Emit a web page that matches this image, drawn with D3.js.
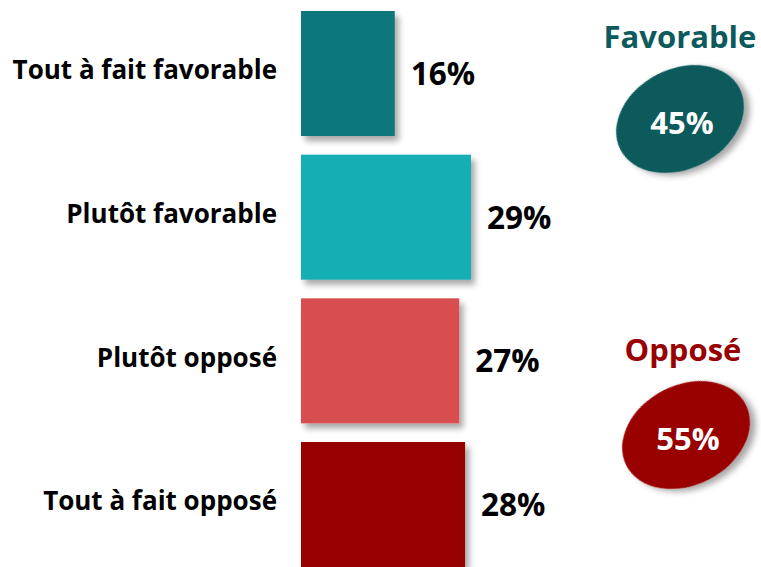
<!DOCTYPE html>
<html><head><meta charset="utf-8">
<script src="https://cdn.jsdelivr.net/npm/d3@7"></script>
<style>body{margin:0;background:#fff}svg{display:block}</style>
</head><body>
<script>
const categories = ["Tout à fait favorable","Plutôt favorable","Plutôt opposé","Tout à fait opposé"];
const values = [16, 29, 27, 28];
const barColors = ["#10777d","#13aeb5","#d84d4f","#960000"];
const groups = ["Favorable","Opposé"];
const groupTotals = [45, 55];
const groupColors = ["#0d5a5c","#990000"];

const W = 761, H = 567;
const svg = d3.select("body").append("svg").attr("width", W).attr("height", H);
const defs = svg.append("defs");
const f = defs.append("filter").attr("id","sh").attr("x","-20%").attr("y","-20%").attr("width","150%").attr("height","150%");
f.append("feDropShadow").attr("dx",4).attr("dy",5).attr("stdDeviation",3).attr("flood-color","#000").attr("flood-opacity",0.35);

const font = "'Open Sans', sans-serif";
const x = d3.scaleLinear().domain([0, 100]).range([301, 301 + 586]);
const y = d3.scaleBand().domain(categories).range([11, 567]).paddingInner(0.13).paddingOuter(0);

svg.selectAll("rect.bar").data(values).join("rect")
  .attr("class","bar")
  .attr("x", x(0))
  .attr("y", (d,i) => y(categories[i]))
  .attr("width", d => x(d) - x(0))
  .attr("height", y.bandwidth())
  .attr("fill", (d,i) => barColors[i])
  .attr("filter","url(#sh)");

svg.selectAll("text.val").data(values).join("text")
  .attr("class","val")
  .attr("x", d => x(d) + 16)
  .attr("y", (d,i) => y(categories[i]) + y.bandwidth()/2 + 3)
  .attr("dominant-baseline","middle")
  .attr("font-family", font).attr("font-weight", 700).attr("font-size", 31.5)
  .attr("fill","#000")
  .text(d => d + "%");

svg.selectAll("text.cat").data(categories).join("text")
  .attr("class","cat")
  .attr("x", 277)
  .attr("y", d => y(d) + y.bandwidth()/2 - 1)
  .attr("text-anchor","end")
  .attr("dominant-baseline","middle")
  .attr("font-family", font).attr("font-weight", 700).attr("font-size", 26)
  .attr("fill","#000")
  .text(d => d);

const gpos = [{tx:680, ty:40, cx:680, cy:119}, {tx:683, ty:353, cx:686, cy:435}];
groups.forEach((g,i) => {
  const p = gpos[i];
  svg.append("text")
    .attr("x", p.tx).attr("y", p.ty)
    .attr("text-anchor","middle").attr("dominant-baseline","middle")
    .attr("font-family", font).attr("font-weight", 700).attr("font-size", 31)
    .attr("fill", groupColors[i])
    .text(g);
  svg.append("ellipse")
    .attr("cx", 0).attr("cy", 0).attr("rx", 67).attr("ry", 50)
    .attr("transform", `translate(${p.cx},${p.cy}) rotate(-27)`)
    .attr("fill", groupColors[i])
    .attr("filter","url(#sh)");
  svg.append("text")
    .attr("x", p.cx + 2).attr("y", p.cy + 7)
    .attr("text-anchor","middle").attr("dominant-baseline","middle")
    .attr("font-family", font).attr("font-weight", 700).attr("font-size", 31)
    .attr("fill","#fff")
    .text(groupTotals[i] + "%");
});
</script>
</body></html>
